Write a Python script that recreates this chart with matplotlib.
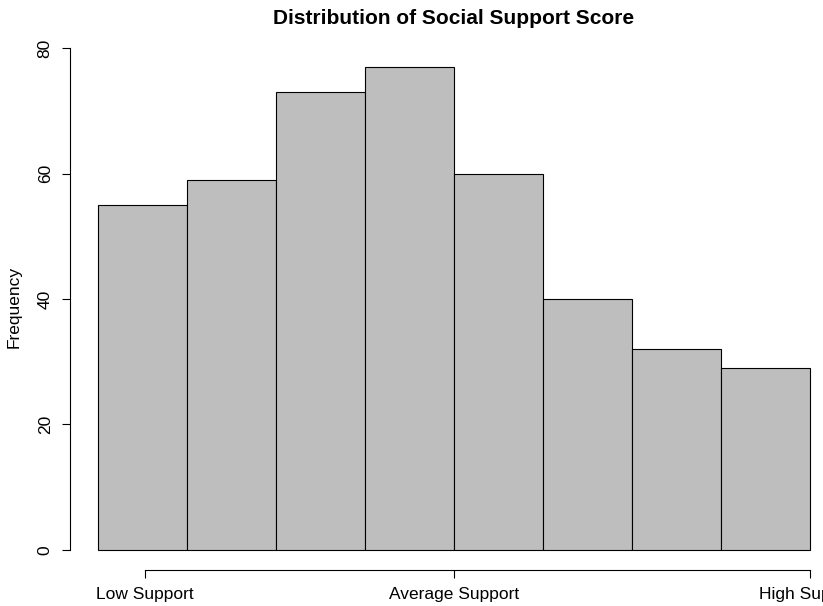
import matplotlib
matplotlib.use("Agg")
import matplotlib.pyplot as plt

# Data
bin_edges = [0, 1, 2, 3, 4, 5, 6, 7, 8]
frequencies = [55, 59, 73, 77, 60, 40, 32, 29]
x_tick_positions = [0.52, 4.0, 8.0]
x_tick_labels = ["Low Support", "Average Support", "High Support"]
y_ticks = [0, 20, 40, 60, 80]

plt.rcParams['font.family'] = ['Liberation Sans', 'DejaVu Sans']

W, H = 823, 606
fig = plt.figure(figsize=(W / 100, H / 100), dpi=100)
# plot region in pixels: left 70, right 838, top 28, bottom 570
L, R, T, B = 70, 838, 28, 570
ax = fig.add_axes([L / W, 1 - B / H, (R - L) / W, (B - T) / H])

widths = [bin_edges[i + 1] - bin_edges[i] for i in range(len(frequencies))]
ax.bar(bin_edges[:-1], frequencies, width=widths, align='edge',
       color='#bebebe', edgecolor='black', linewidth=0.8)

xr = bin_edges[-1] - bin_edges[0]
ax.set_xlim(bin_edges[0] - 0.04 * xr, bin_edges[-1] + 0.04 * xr)
ax.set_ylim(-0.04 * 80, 80 * 1.04)

for s in ['top', 'right']:
    ax.spines[s].set_visible(False)
ax.spines['left'].set_bounds(0, 80)
ax.spines['bottom'].set_bounds(x_tick_positions[0], x_tick_positions[-1])
ax.spines['left'].set_linewidth(0.8)
ax.spines['bottom'].set_linewidth(0.8)

ax.set_yticks(y_ticks)
ax.set_yticklabels([str(v) for v in y_ticks], rotation=90, va='center')
ax.set_xticks(x_tick_positions)
ax.set_xticklabels(x_tick_labels)
ax.tick_params(axis='both', length=5.5, width=0.8, labelsize=12.5, direction='out')
ax.tick_params(axis='x', pad=7)
ax.tick_params(axis='y', pad=7)

fig.text(14 / W, 1 - 307 / H, "Frequency", rotation=90, ha='center', va='center', fontsize=12.5)
fig.text((L + R) / 2 / W, 1 - 18 / H, "Distribution of Social Support Score",
         ha='center', va='center', fontsize=15, fontweight='bold')

fig.savefig("out.png", dpi=100)
